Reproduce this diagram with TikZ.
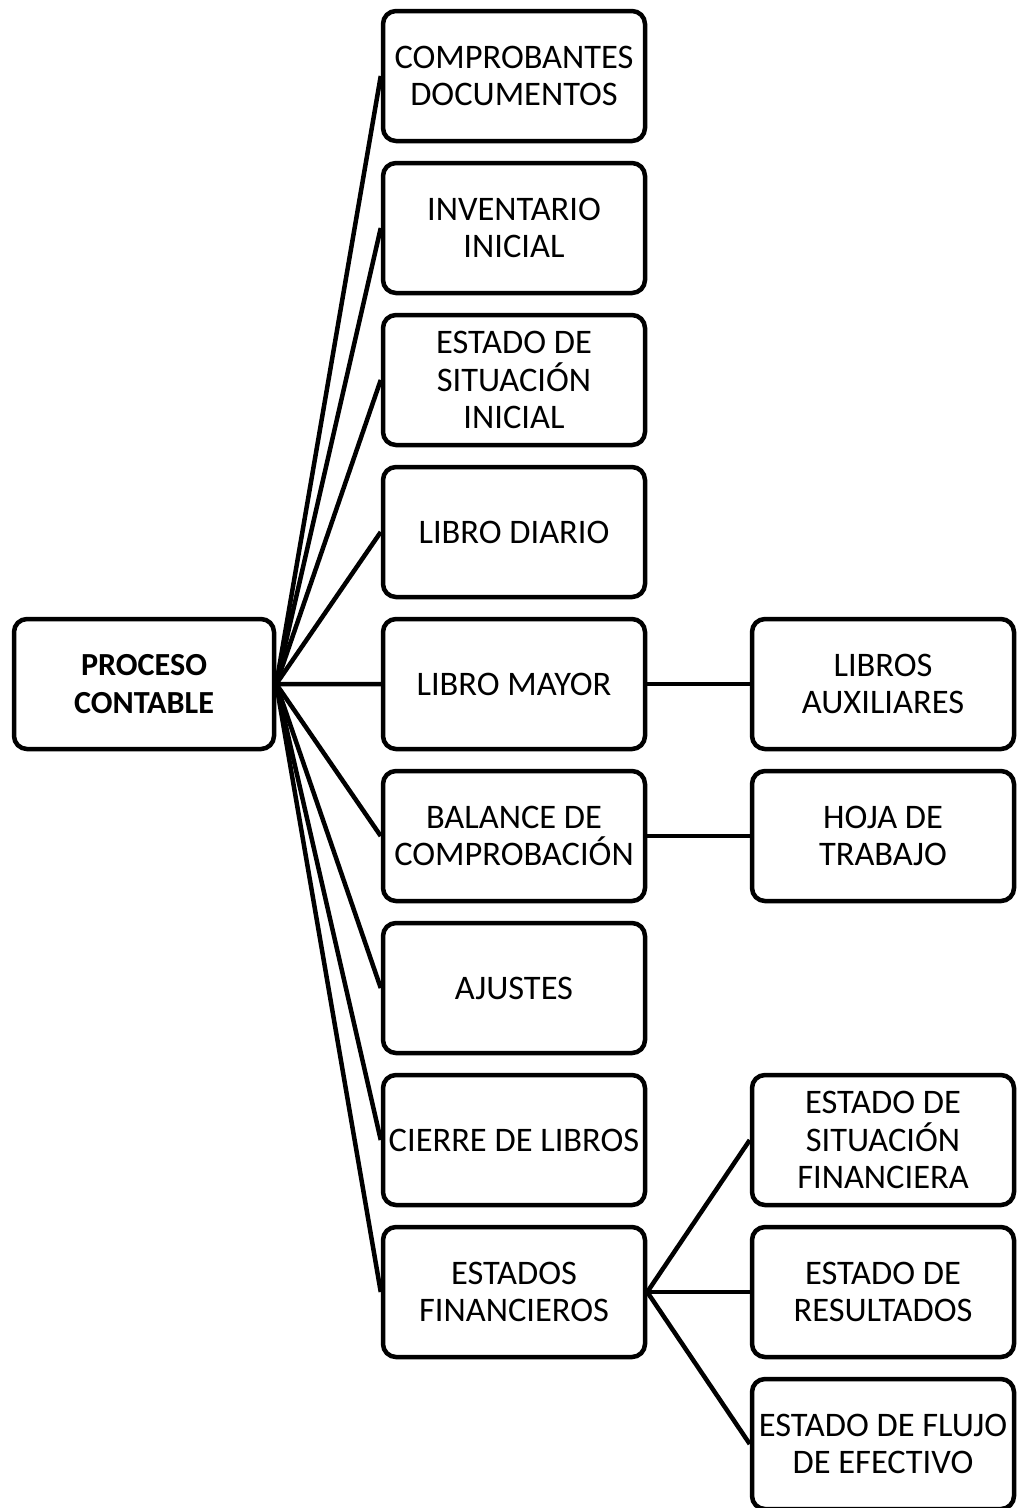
\documentclass[tikz,border=0pt]{standalone}
\usepackage{fontspec}
\setmainfont{Carlito}
\usepackage{tikz}
\usetikzlibrary{positioning}

\begin{document}
\begin{tikzpicture}[
        node distance=0.35cm and 2.05cm,
        every node/.style={font=\fontsize{19.6}{21.3}\selectfont},
        block/.style={draw, line width=0.09cm, rectangle, rounded corners=0.26cm, minimum width=5.24cm, minimum height=2.6cm, align=center, inner sep=0pt},
        link/.style={line width=0.09cm}
    ]
        \useasboundingbox (0,0) rectangle (20.34,-30.16);

        % Root
        \node[block, minimum width=5.2cm, font=\fontsize{18.3}{21.3}\selectfont\bfseries] (proceso) at (2.88,-13.68) {PROCESO\\CONTABLE};

        % Main steps
        \node[block] (comprobantes) at (10.28,-1.52) {COMPROBANTES\\DOCUMENTOS};
        \node[block] (inventario) [below=of comprobantes] {INVENTARIO\\INICIAL};
        \node[block] (situacion) [below=of inventario] {ESTADO DE\\SITUACIÓN\\INICIAL};
        \node[block] (diario) [below=of situacion] {LIBRO DIARIO};
        \node[block] (mayor) [below=of diario] {LIBRO MAYOR};
        \node[block] (balance) [below=of mayor] {BALANCE DE\\COMPROBACIÓN};
        \node[block] (ajustes) [below=of balance] {AJUSTES};
        \node[block] (cierre) [below=of ajustes] {CIERRE DE LIBROS};
        \node[block] (estados) [below=of cierre] {ESTADOS\\FINANCIEROS};

        % Secondary steps
        \node[block] (auxiliares) [right=of mayor] {LIBROS\\AUXILIARES};
        \node[block] (hoja) [right=of balance] {HOJA DE\\TRABAJO};
        \node[block] (financiera) [right=of cierre] {ESTADO DE\\SITUACIÓN\\FINANCIERA};
        \node[block] (resultados) [right=of estados] {ESTADO DE\\RESULTADOS};
        \node[block] (flujo) [below=of resultados] {ESTADO DE FLUJO\\DE EFECTIVO};

        % Connections
        \foreach \step in {comprobantes,inventario,situacion,diario,mayor,balance,ajustes,cierre,estados}
            \draw[link] (proceso.east) -- (\step.west);
        \draw[link] (mayor) -- (auxiliares);
        \draw[link] (balance) -- (hoja);
        \foreach \step in {financiera,resultados,flujo}
            \draw[link] (estados.east) -- (\step.west);
    \end{tikzpicture}
\end{document}
